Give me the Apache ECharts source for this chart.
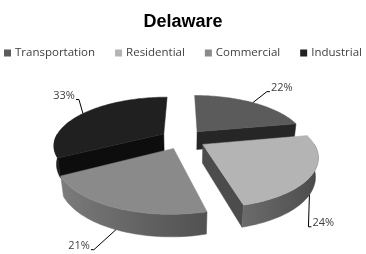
<!DOCTYPE html>
<html><head><meta charset="utf-8">
<script src="https://cdn.jsdelivr.net/npm/echarts@6/dist/echarts.min.js"></script>
<style>html,body{margin:0;padding:0;background:#fff}#c{width:366px;height:254px}</style>
</head><body><div id="c"></div>
<script>
const chartTitle = 'Delaware';
const categories = ['Transportation', 'Residential', 'Commercial', 'Industrial'];
const values = [22, 24, 21, 33];
const labelTexts = ['22%', '24%', '21%', '33%'];
const colors = ['#5b5b5b', '#b4b4b4', '#8a8a8a', '#202020'];

// view / layout settings (not data)
const VIEW = {cx: 183, cy: 139, F: 455, L: 4.18, elev: 25.5 * Math.PI / 180, thick: 0.19, explode: 0.21};
const leaderNudge = [[14, -11], [-1, 32], [-22, 20], [-4, -14]];

const total = values.reduce((a, b) => a + b, 0);
const starts = [];
(function () { let acc = 0; values.forEach(v => { starts.push(acc / total * 2 * Math.PI); acc += v; }); })();

function proj(X, Y, Z) {
  const s = Math.sin(VIEW.elev), c = Math.cos(VIEW.elev);
  const depth = VIEW.L - Y * s - Z * c;
  return [VIEW.cx + VIEW.F * X / depth, VIEW.cy - VIEW.F * (Y * c - Z * s) / depth];
}
function shade(hex, k) {
  const n = parseInt(hex.slice(1), 16);
  const r = Math.min(255, Math.round(((n >> 16) & 255) * k));
  const g = Math.min(255, Math.round(((n >> 8) & 255) * k));
  const b = Math.min(255, Math.round((n & 255) * k));
  return 'rgb(' + r + ',' + g + ',' + b + ')';
}
const TXT = '#404040';
const FONT = 'Open Sans';

function makeRender(i) {
  return function (params, api) {
    const v = api.value(0);
    const a0 = starts[i], a1 = a0 + v / total * 2 * Math.PI, mid = (a0 + a1) / 2;
    const ox = VIEW.explode * Math.sin(mid), oz = -VIEW.explode * Math.cos(mid);
    const P = (r, th, Y) => proj(ox + r * Math.sin(th), Y, oz - r * Math.cos(th));
    const t = -VIEW.thick;
    const children = [];
    // radial cut faces
    [[a0, a0 - Math.PI / 2], [a1, a1 + Math.PI / 2]].forEach(([ang, nrm]) => {
      if (Math.cos(nrm) < -1e-3) {
        const f = shade(colors[i], 0.42);
        children.push({type: 'polygon', shape: {points: [P(0, 0, 0), P(1, ang, 0), P(1, ang, t), P(0, 0, t)]},
          style: {fill: f, stroke: f, lineWidth: 0.5}});
      }
    });
    // curved outer side (front-facing part), one polygon with a horizontal gradient
    const s0 = Math.max(a0, Math.PI / 2), s1 = Math.min(a1, 1.5 * Math.PI);
    if (s1 > s0) {
      const M = Math.ceil((s1 - s0) / (Math.PI / 120));
      const topArc = [], botArc = [], samples = [];
      for (let k = 0; k <= M; k++) {
        const th = s0 + (s1 - s0) * k / M;
        topArc.push(P(1, th, 0)); botArc.push(P(1, th, t));
        samples.push(th);
      }
      const xs = topArc.map(p => p[0]);
      const xmin = Math.min(...xs), xmax = Math.max(...xs);
      const stops = samples.map((th, k) => ({offset: (xs[k] - xmin) / (xmax - xmin || 1),
        color: shade(colors[i], 0.66 - 0.28 * Math.sin(th))})).sort((a, b) => a.offset - b.offset);
      const pts = topArc.concat(botArc.slice().reverse());
      const grad = {type: 'linear', x: xmin, y: 0, x2: xmax, y2: 0, global: true, colorStops: stops};
      children.push({type: 'polygon', shape: {points: pts}, style: {fill: grad, stroke: grad, lineWidth: 0.5}});
    }
    // top face
    const N = Math.ceil((a1 - a0) / (Math.PI / 120));
    const pts = [P(0, 0, 0)];
    for (let k = 0; k <= N; k++) pts.push(P(1, a0 + (a1 - a0) * k / N, 0));
    children.push({type: 'polygon', shape: {points: pts}, style: {fill: colors[i], stroke: colors[i], lineWidth: 0.5}});
    // leader line + label
    const front = Math.cos(mid) < 0;
    const sx = Math.sin(mid) >= 0 ? 1 : -1;
    const st = P(1, mid, front ? t : 0);
    const en = [st[0] + leaderNudge[i][0], st[1] + leaderNudge[i][1]];
    const hz = [en[0] + sx * 3, en[1]];
    children.push({type: 'polyline', shape: {points: [st, en, hz]}, style: {stroke: '#000', lineWidth: 1, fill: null}});
    children.push({type: 'text', x: hz[0] + sx * 1, y: hz[1] - 4,
      style: {text: labelTexts[i], fill: TXT, fontSize: 11, fontFamily: FONT,
        align: sx > 0 ? 'left' : 'right', verticalAlign: 'middle'}});
    return {type: 'group', children: children};
  };
}

const series = categories.map((name, i) => {
  const mid = starts[i] + values[i] / total * Math.PI;
  return {
    type: 'custom', name: name, coordinateSystem: 'none',
    z: Math.round(10 - 5 * Math.cos(mid)),
    itemStyle: {color: colors[i]},
    data: [[values[i]]],
    renderItem: makeRender(i),
    silent: true
  };
});

const chart = echarts.init(document.getElementById('c'), null, {renderer: 'canvas'});
chart.setOption({
  animation: false,
  backgroundColor: '#fff',
  title: {text: chartTitle, left: 'center', top: 8,
    textStyle: {fontSize: 18, fontWeight: 'bold', color: '#000', fontFamily: 'Liberation Sans'}},
  legend: {data: categories, left: 'center', top: 47, padding: 0, width: 366,
    icon: 'rect', itemWidth: 7, itemHeight: 7, itemGap: 20,
    textStyle: {fontSize: 11.5, color: TXT, fontFamily: FONT, padding: [0, 0, 0, -1]}},
  series: series
});
</script></body></html>
